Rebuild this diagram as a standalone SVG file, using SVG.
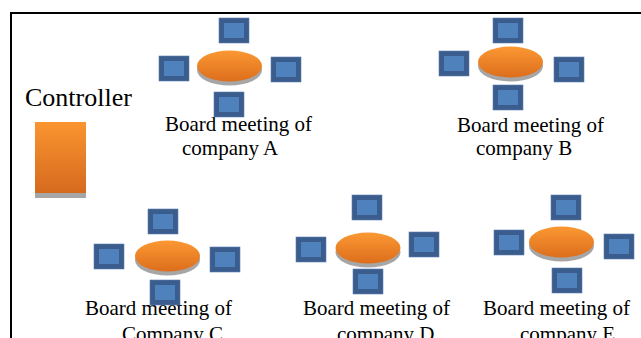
<svg xmlns="http://www.w3.org/2000/svg" width="641" height="338" viewBox="0 0 641 338">
  <defs>
    <linearGradient id="orangeV" x1="0" y1="0" x2="0" y2="1">
      <stop offset="0" stop-color="#FA9530"/>
      <stop offset="1" stop-color="#D56A1E"/>
    </linearGradient>
    <linearGradient id="orangeE" x1="0" y1="0" x2="0" y2="1">
      <stop offset="0" stop-color="#FB9833"/>
      <stop offset="1" stop-color="#DD6E1C"/>
    </linearGradient>
    <!-- chair: dark frame with lighter inner panel -->
    <g id="chair">
      <rect x="0" y="0" width="30" height="25" fill="#3A5D8D" stroke="#5E7FAE" stroke-width="0.6"/>
      <rect x="5" y="5" width="20" height="15" fill="#4F81BD"/>
    </g>
    <!-- table: orange disc over grey rim -->
    <g id="table">
      <ellipse cx="0" cy="4" rx="32.5" ry="15.5" fill="#A6A6A6"/>
      <ellipse cx="0" cy="0" rx="32.5" ry="15.5" fill="url(#orangeE)"/>
    </g>
  </defs>
  <style>
    .lbl { font-family: "Liberation Serif", "Times New Roman", serif; font-size: 21px; fill: #000; }
    .ctl { font-family: "Liberation Serif", "Times New Roman", serif; font-size: 26px; fill: #000; }
  </style>

  <rect width="641" height="338" fill="#FFFFFF"/>
  <path d="M11 338 V13 H641" fill="none" stroke="#000" stroke-width="2"/>

  <g id="controller">
    <text class="ctl" x="25" y="106">Controller</text>
    <rect x="35" y="193" width="51" height="5" fill="#A6A6A6"/>
    <rect x="35" y="122" width="51" height="71" fill="url(#orangeV)"/>
  </g>

  <g id="meeting-a">
    <text class="lbl" x="165" y="131">Board meeting of</text>
    <text class="lbl" x="182" y="155">company A</text>
    <use href="#table" x="229.5" y="66"/>
    <use href="#chair" x="219" y="18"/>
    <use href="#chair" x="159" y="56"/>
    <use href="#chair" x="271" y="57"/>
    <use href="#chair" x="214" y="92"/>
  </g>

  <g id="meeting-b">
    <text class="lbl" x="457" y="132">Board meeting of</text>
    <text class="lbl" x="476" y="155">company B</text>
    <use href="#table" x="510.5" y="62"/>
    <use href="#chair" x="493" y="18"/>
    <use href="#chair" x="439" y="51"/>
    <use href="#chair" x="554" y="57"/>
    <use href="#chair" x="493" y="85"/>
  </g>

  <g id="meeting-c">
    <text class="lbl" x="85" y="315">Board meeting of</text>
    <text class="lbl" x="122" y="341">Company C</text>
    <use href="#table" x="167.5" y="256"/>
    <use href="#chair" x="148" y="209"/>
    <use href="#chair" x="94" y="244"/>
    <use href="#chair" x="210" y="247"/>
    <use href="#chair" x="150" y="280"/>
  </g>

  <g id="meeting-d">
    <text class="lbl" x="303" y="315">Board meeting of</text>
    <text class="lbl" x="337" y="341">company D</text>
    <use href="#table" x="368" y="248"/>
    <use href="#chair" x="352" y="195"/>
    <use href="#chair" x="296" y="237"/>
    <use href="#chair" x="409" y="232"/>
    <use href="#chair" x="353" y="269"/>
  </g>

  <g id="meeting-e">
    <text class="lbl" x="483" y="315">Board meeting of</text>
    <text class="lbl" x="520" y="341">company E</text>
    <use href="#table" x="561.5" y="242"/>
    <use href="#chair" x="551" y="195"/>
    <use href="#chair" x="494" y="230"/>
    <use href="#chair" x="604" y="234"/>
    <use href="#chair" x="552" y="268"/>
  </g>

  <g id="connectors"/>
</svg>
